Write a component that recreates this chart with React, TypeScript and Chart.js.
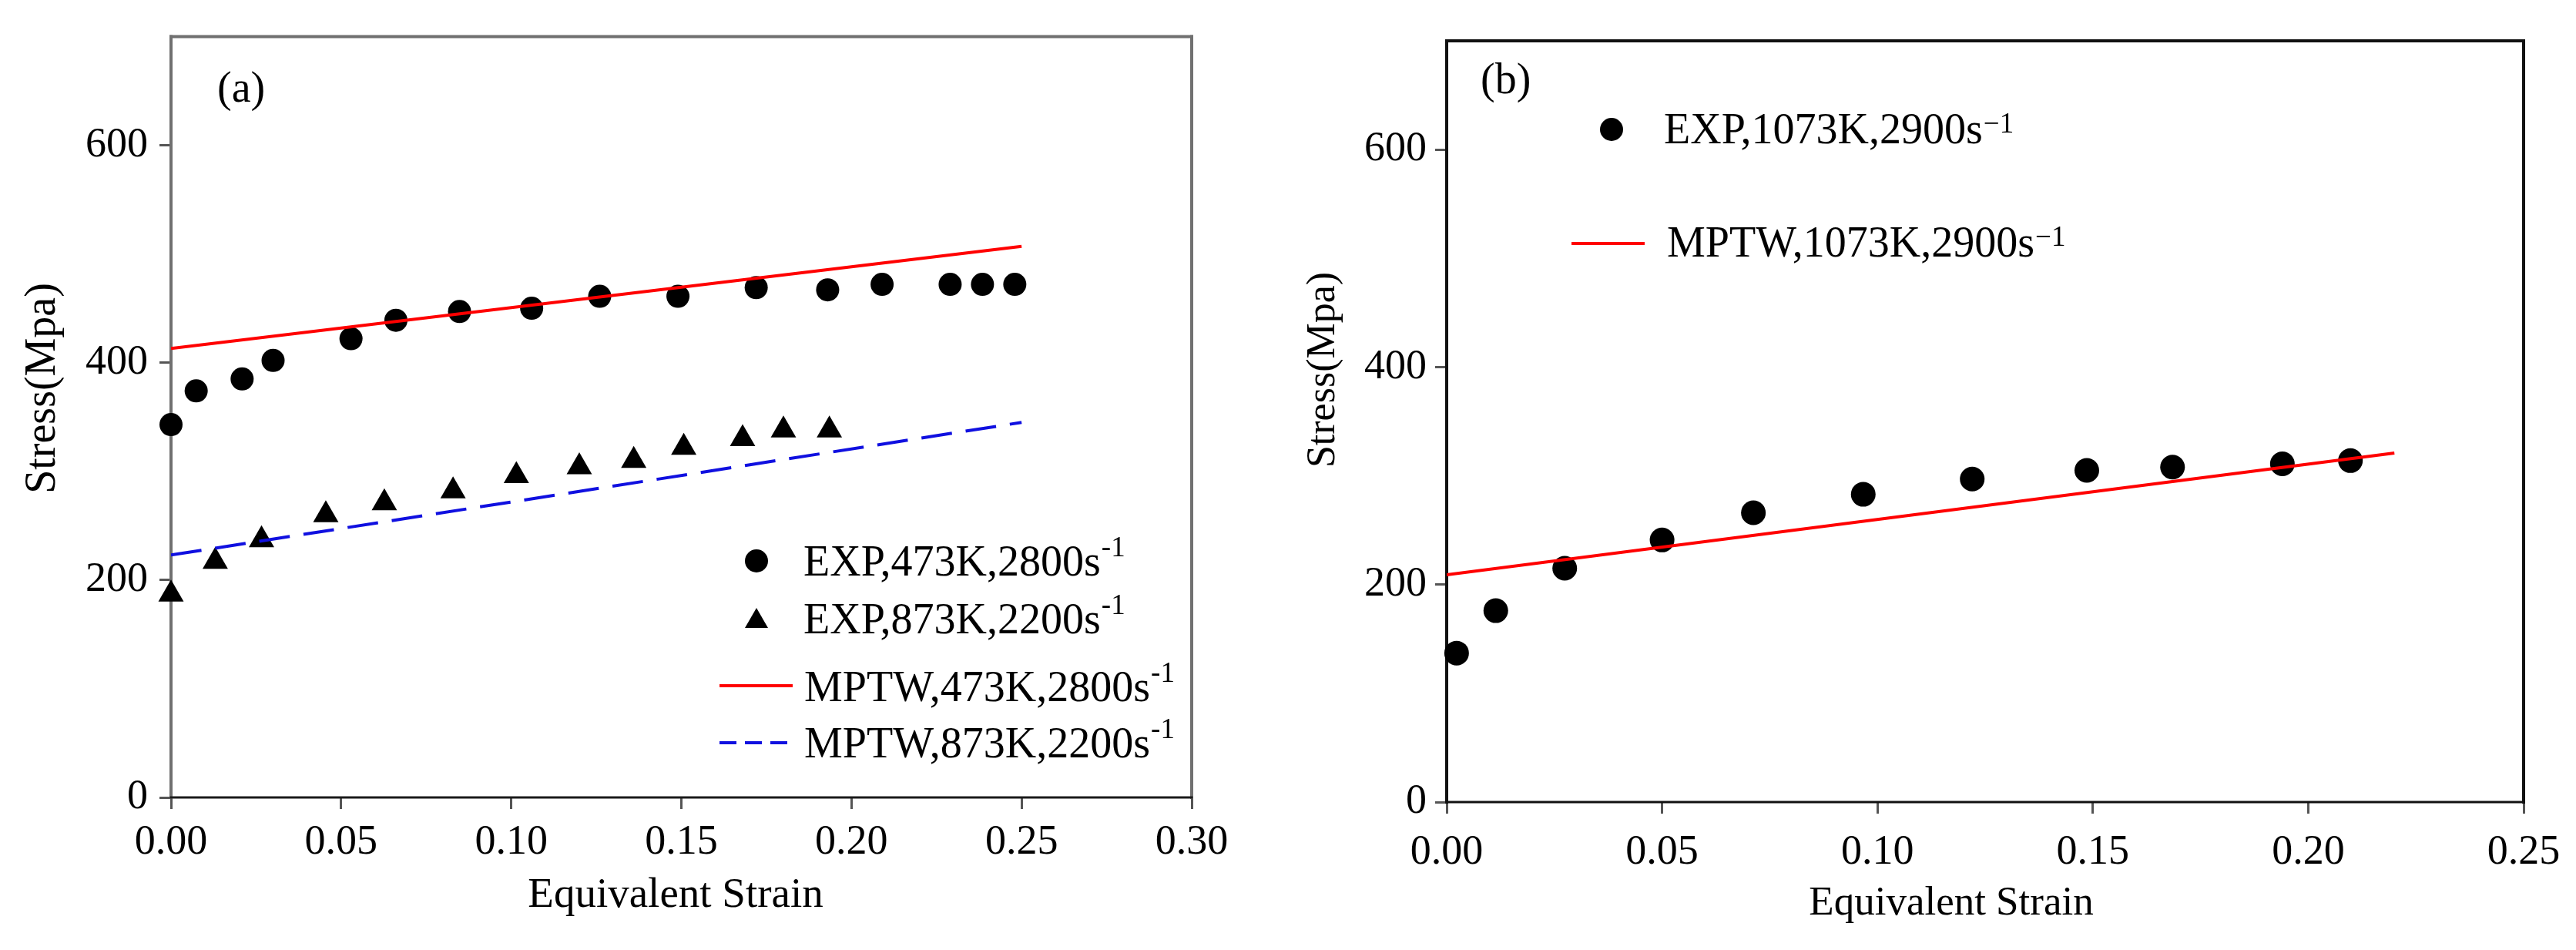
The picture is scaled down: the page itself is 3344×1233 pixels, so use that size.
import { useEffect, useRef } from 'react';
import { Chart, registerables, type Plugin } from 'chart.js';

Chart.register(...registerables);

const SERIF = '"Liberation Serif", "Times New Roman", serif';
const H = 1233;

// ---- panel (a) data ----
const xTicksA = [0, 0.05, 0.1, 0.15, 0.2, 0.25, 0.3];
const yTicksA = [0, 200, 400, 600];

const strainExp473 = [0, 0.0074, 0.0209, 0.03, 0.0529, 0.0661, 0.0848, 0.106, 0.126, 0.149, 0.172, 0.193, 0.209, 0.229, 0.2385, 0.248];
const stressExp473 = [343, 374, 385, 402, 422, 439, 447, 450, 461, 461, 469, 467, 472, 472, 472, 472];

const strainExp873 = [0, 0.013, 0.0266, 0.0455, 0.0627, 0.0829, 0.1015, 0.12, 0.136, 0.1507, 0.168, 0.18, 0.1935];
const stressExp873 = [187, 217, 237, 260, 271, 282, 296, 304, 310, 322, 330, 338, 338];

const strainMptw473 = [0, 0.25];
const stressMptw473 = [413, 507];
const strainMptw873 = [0, 0.25];
const stressMptw873 = [223, 345];

// ---- panel (b) data ----
const xTicksB = [0, 0.05, 0.1, 0.15, 0.2, 0.25];
const yTicksB = [0, 200, 400, 600];

const strainExp1073 = [0.0023, 0.0114, 0.0274, 0.05, 0.0712, 0.0967, 0.122, 0.1486, 0.1685, 0.194, 0.2098];
const stressExp1073 = [137, 176, 215, 241, 266, 283, 297, 305, 308, 311, 314];

const strainMptw1073 = [0, 0.22];
const stressMptw1073 = [209, 321];

const pts = (xs: number[], ys: number[]) => xs.map((x, i) => ({ x, y: ys[i] }));

type Sym = 'circle' | 'triangle' | 'line' | 'dash';
interface LegendItem { sym: Sym; color: string; sx: number; sy: number; text: string; sup: string; tx: number; ty: number; supRise: number; }

interface PanelSpec {
  left: number;
  width: number;
  area: { left: number; top: number; right: number; bottom: number };
  xMax: number;
  xTicks: number[];
  yTicks: number[];
  datasets: any[];
  frame: { left: string; top: string; right: string; bottom: string };
  tickPadX: number;
  tickPadY: number;
  label: { text: string; x: number; y: number };
  yTitle: { x: number; y: number; size: number };
  xTitle: { x: number; y: number; size: number };
  legend: LegendItem[];
}

const lineSet = (data: { x: number; y: number }[], color: string, dash: number[] = []) => ({
  data,
  showLine: true,
  borderColor: color,
  borderWidth: 4,
  borderDash: dash,
  pointRadius: 0,
  fill: false,
});

const markSet = (data: { x: number; y: number }[], style: string, r: number) => ({
  data,
  showLine: false,
  pointStyle: style,
  pointRadius: r,
  pointBackgroundColor: '#000',
  pointBorderColor: '#000',
  pointBorderWidth: 0,
  clip: false,
});

const panelA: PanelSpec = {
  left: 0,
  width: 1650,
  area: { left: 222, top: 39, right: 1547, bottom: 1035 },
  xMax: 0.3,
  xTicks: xTicksA,
  yTicks: yTicksA,
  datasets: [
    lineSet(pts(strainMptw473, stressMptw473), '#ff0000'),
    lineSet(pts(strainMptw873, stressMptw873), '#1010e0', [40, 18]),
    markSet(pts(strainExp473, stressExp473), 'circle', 15),
    markSet(pts(strainExp873, stressExp873), 'triangle', 19),
  ],
  frame: { left: '#707070', top: '#707070', right: '#707070', bottom: '#1a1a1a' },
  tickPadX: 11,
  tickPadY: 15,
  label: { text: '(a)', x: 282, y: 132 },
  yTitle: { x: 71, y: 504, size: 56 },
  xTitle: { x: 877, y: 1177, size: 55 },
  legend: [
    { sym: 'circle', color: '#000', sx: 982, sy: 728, text: 'EXP,473K,2800s', sup: '-1', tx: 1043, ty: 747, supRise: 25 },
    { sym: 'triangle', color: '#000', sx: 982, sy: 805, text: 'EXP,873K,2200s', sup: '-1', tx: 1043, ty: 822, supRise: 25 },
    { sym: 'line', color: '#ff0000', sx: 934, sy: 890, text: 'MPTW,473K,2800s', sup: '-1', tx: 1044, ty: 910, supRise: 25 },
    { sym: 'dash', color: '#1010e0', sx: 934, sy: 964, text: 'MPTW,873K,2200s', sup: '-1', tx: 1044, ty: 983, supRise: 25 },
  ],
};

const panelB: PanelSpec = {
  left: 1650,
  width: 1694,
  area: { left: 228, top: 53, right: 1626, bottom: 1041 },
  xMax: 0.25,
  xTicks: xTicksB,
  yTicks: yTicksB,
  datasets: [
    lineSet(pts(strainMptw1073, stressMptw1073), '#ff0000'),
    markSet(pts(strainExp1073, stressExp1073), 'circle', 16),
  ],
  frame: { left: '#111', top: '#111', right: '#111', bottom: '#111' },
  tickPadX: 18,
  tickPadY: 11,
  label: { text: '(b)', x: 272, y: 121 },
  yTitle: { x: 82, y: 480, size: 52 },
  xTitle: { x: 883, y: 1187, size: 53 },
  legend: [
    { sym: 'circle', color: '#000', sx: 442, sy: 168, text: 'EXP,1073K,2900s', sup: '\u22121', tx: 510, ty: 186, supRise: 14 },
    { sym: 'line', color: '#ff0000', sx: 390, sy: 316, text: 'MPTW,1073K,2900s', sup: '\u22121', tx: 514, ty: 333, supRise: 14 },
  ],
};

function framePlugin(spec: PanelSpec): Plugin<'scatter'> {
  return {
    id: 'frame',
    beforeDatasetsDraw(chart) {
      const { ctx, chartArea: a } = chart;
      ctx.save();
      ctx.lineCap = 'square';
      const seg = (x1: number, y1: number, x2: number, y2: number, c: string, w: number) => {
        ctx.strokeStyle = c;
        ctx.lineWidth = w;
        ctx.beginPath();
        ctx.moveTo(x1, y1);
        ctx.lineTo(x2, y2);
        ctx.stroke();
      };
      seg(a.left, a.top, a.right, a.top, spec.frame.top, 4);
      seg(a.right, a.top, a.right, a.bottom, spec.frame.right, 4);
      seg(a.left, a.top, a.left, a.bottom, spec.frame.left, 4);
      seg(a.left, a.bottom, a.right, a.bottom, spec.frame.bottom, 3);
      ctx.restore();
    },
  };
}

function textPlugin(spec: PanelSpec): Plugin<'scatter'> {
  return {
    id: 'texts',
    afterDraw(chart) {
      const { ctx } = chart;
      ctx.save();
      ctx.fillStyle = '#000';
      ctx.textBaseline = 'alphabetic';

      // panel label
      ctx.font = `56px ${SERIF}`;
      ctx.textAlign = 'left';
      ctx.fillText(spec.label.text, spec.label.x, spec.label.y);

      // axis titles
      ctx.textAlign = 'center';
      ctx.font = `${spec.xTitle.size}px ${SERIF}`;
      ctx.fillText('Equivalent Strain', spec.xTitle.x, spec.xTitle.y);
      ctx.save();
      ctx.translate(spec.yTitle.x, spec.yTitle.y);
      ctx.rotate(-Math.PI / 2);
      ctx.font = `${spec.yTitle.size}px ${SERIF}`;
      ctx.fillText('Stress(Mpa)', 0, 0);
      ctx.restore();

      // legend
      for (const it of spec.legend) {
        ctx.fillStyle = it.color;
        ctx.strokeStyle = it.color;
        if (it.sym === 'circle') {
          ctx.beginPath();
          ctx.arc(it.sx, it.sy, 15, 0, Math.PI * 2);
          ctx.fill();
        } else if (it.sym === 'triangle') {
          ctx.beginPath();
          ctx.moveTo(it.sx, it.sy - 16);
          ctx.lineTo(it.sx + 15, it.sy + 10);
          ctx.lineTo(it.sx - 15, it.sy + 10);
          ctx.closePath();
          ctx.fill();
        } else {
          ctx.lineWidth = 4;
          ctx.setLineDash(it.sym === 'dash' ? [22, 11] : []);
          ctx.beginPath();
          ctx.moveTo(it.sx, it.sy);
          ctx.lineTo(it.sx + (it.sym === 'dash' ? 89 : 95), it.sy);
          ctx.stroke();
          ctx.setLineDash([]);
        }
        ctx.fillStyle = '#000';
        ctx.textAlign = 'left';
        ctx.font = `56px ${SERIF}`;
        ctx.fillText(it.text, it.tx, it.ty);
        const w = ctx.measureText(it.text).width;
        ctx.font = `37px ${SERIF}`;
        ctx.fillText(it.sup, it.tx + w + 1, it.ty - it.supRise);
      }
      ctx.restore();
    },
  };
}

function Panel({ spec }: { spec: PanelSpec }) {
  const canvasRef = useRef<HTMLCanvasElement>(null);

  useEffect(() => {
    if (!canvasRef.current) return;
    const tickFont = { family: SERIF, size: 54 };
    const chart = new Chart(canvasRef.current, {
      type: 'scatter',
      data: { datasets: spec.datasets },
      options: {
        animation: false,
        responsive: false,
        devicePixelRatio: 1,
        layout: {
          padding: { left: 0, top: spec.area.top, right: spec.width - spec.area.right, bottom: 0 },
        },
        plugins: { legend: { display: false }, tooltip: { enabled: false } },
        scales: {
          x: {
            type: 'linear',
            min: 0,
            max: spec.xMax,
            afterBuildTicks: (s: any) => { s.ticks = spec.xTicks.map((v) => ({ value: v })); },
            afterFit: (s: any) => { s.height = H - spec.area.bottom; },
            ticks: {
              font: tickFont,
              color: '#000',
              padding: spec.tickPadX,
              maxRotation: 0,
              autoSkip: false,
              callback: (v: any) => Number(v).toFixed(2),
            },
            grid: { drawOnChartArea: false, drawTicks: true, tickLength: 15, tickWidth: 3, tickColor: '#555' },
            border: { display: false },
          },
          y: {
            type: 'linear',
            min: 0,
            max: 700,
            afterBuildTicks: (s: any) => { s.ticks = spec.yTicks.map((v) => ({ value: v })); },
            afterFit: (s: any) => { s.width = spec.area.left; },
            ticks: { font: tickFont, color: '#000', padding: spec.tickPadY, autoSkip: false },
            grid: { drawOnChartArea: false, drawTicks: true, tickLength: 15, tickWidth: 3, tickColor: '#555' },
            border: { display: false },
          },
        },
      },
      plugins: [framePlugin(spec), textPlugin(spec)],
    });
    return () => { chart.destroy(); };
  }, [spec]);

  return (
    <canvas
      ref={canvasRef}
      width={spec.width}
      height={H}
      style={{ position: 'absolute', left: spec.left, top: 0, width: spec.width, height: H }}
    />
  );
}

export default function App() {
  useEffect(() => {
    document.body.style.margin = '0';
    document.body.style.background = '#fff';
  }, []);
  return (
    <div style={{ position: 'relative', width: 3344, height: H, background: '#fff', overflow: 'hidden' }}>
      <Panel spec={panelA} />
      <Panel spec={panelB} />
    </div>
  );
}
